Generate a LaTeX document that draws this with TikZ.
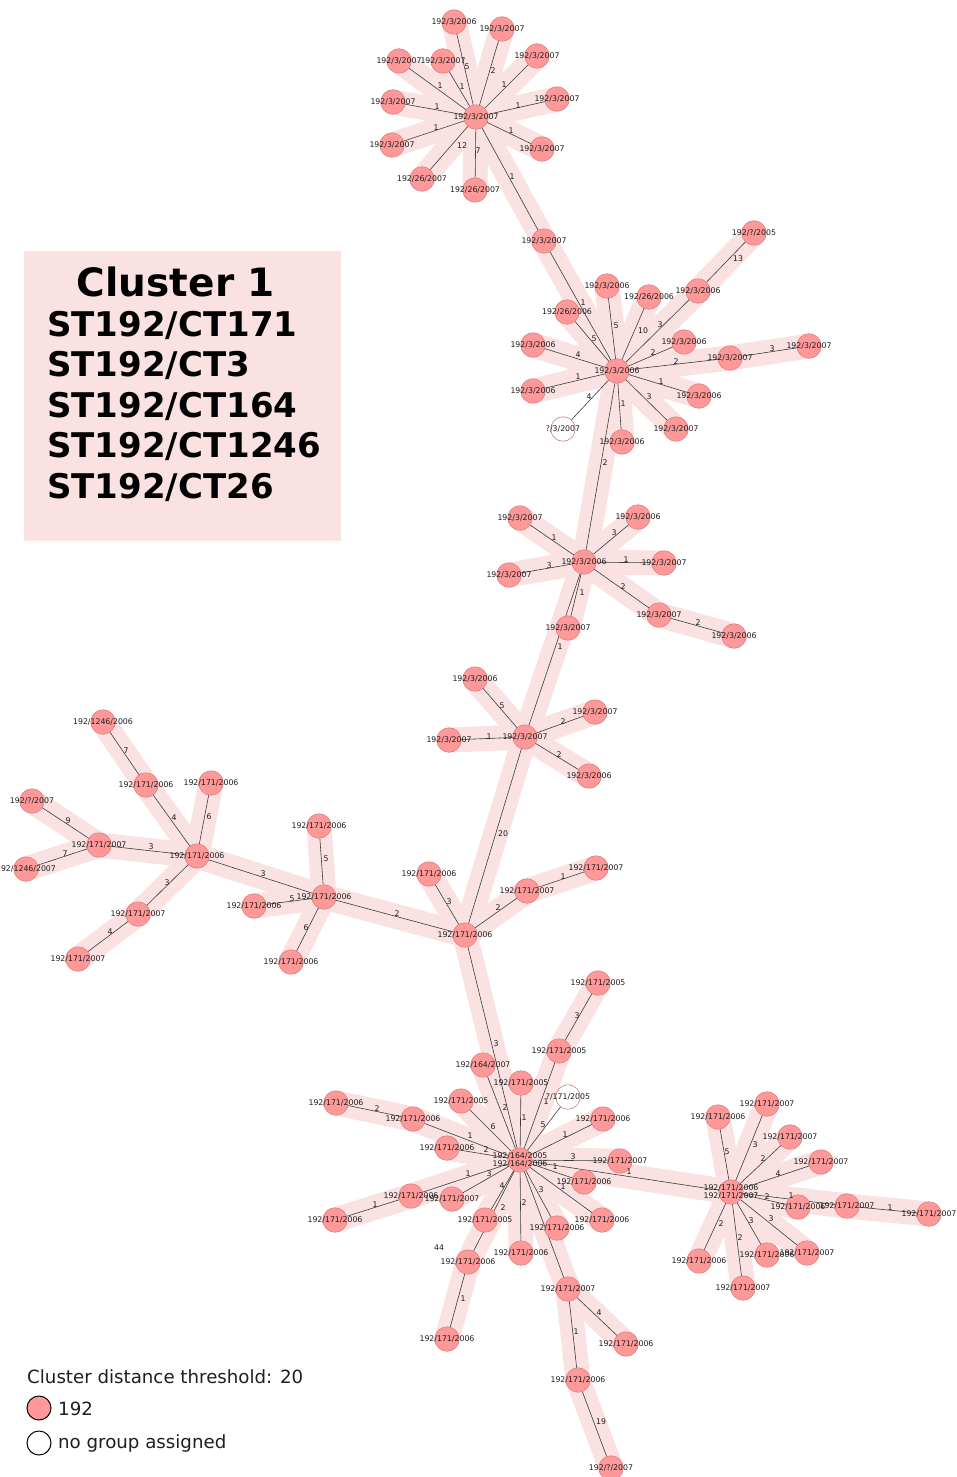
\documentclass[tikz,border=0pt]{standalone}
\usepackage{fontspec}
\setmainfont{DejaVu Sans}
\definecolor{bandpink}{RGB}{250,226,226}
\definecolor{nodepink}{RGB}{255,153,153}
\definecolor{nodeborder}{RGB}{222,128,128}
\definecolor{edgegray}{RGB}{60,60,60}
\definecolor{txt}{RGB}{30,30,30}
\pgfdeclarelayer{band}
\pgfdeclarelayer{edges}
\pgfdeclarelayer{fg}
\pgfsetlayers{band,edges,main,fg}
\tikzset{
  pn/.style={circle, minimum size=24.5pt, inner sep=0pt, fill=nodepink, draw=nodeborder, line width=0.6pt},
  wn/.style={circle, minimum size=24.5pt, inner sep=0pt, fill=white, draw=nodeborder!70!gray, line width=0.6pt},
  ntext/.style={font=\fontsize{7.8}{8.6}\selectfont, text=txt, inner sep=0pt, align=center},
  elab/.style={font=\fontsize{7.8}{8.6}\selectfont, text=txt, inner sep=0pt},
  bandline/.style={bandpink, line width=25pt, line cap=round},
  edgeline/.style={edgegray, line width=0.6pt},
  legtext/.style={anchor=base west, inner sep=0pt, font=\fontsize{18.2}{20}\selectfont, text=txt},
  titleline/.style={anchor=base west, inner sep=0pt, font=\bfseries\fontsize{34}{36}\selectfont, text=black}
}
\newcommand\Nd[4][pn]{\node[#1] (#2) at (#3) {};
  \begin{pgfonlayer}{fg}\node[ntext] at (#2.center) {#4};\end{pgfonlayer}}
\newcommand\Ed[4]{%
  \begin{pgfonlayer}{band}\draw[bandline] (#1.center) -- (#2.center);\end{pgfonlayer}
  \begin{pgfonlayer}{edges}\draw[edgeline] (#1.center) -- (#2.center);\end{pgfonlayer}
  \begin{pgfonlayer}{fg}\node[elab] at (#4) {#3};\end{pgfonlayer}}
\newcommand\Ew[4]{%
  \begin{pgfonlayer}{edges}\draw[edgeline] (#1.center) -- (#2.center);\end{pgfonlayer}
  \begin{pgfonlayer}{fg}\node[elab] at (#4) {#3};\end{pgfonlayer}}
\newcommand\Eo[2]{%
  \begin{pgfonlayer}{band}\draw[bandline] (#1.center) -- (#2.center);\end{pgfonlayer}
  \begin{pgfonlayer}{edges}\draw[edgeline] (#1.center) -- (#2.center);\end{pgfonlayer}}
\begin{document}
\begin{tikzpicture}[x=1pt,y=-1pt]
\useasboundingbox (0,0) rectangle (957,1477);
% title box
\node[fill=bandpink, minimum width=317pt, minimum height=290pt, anchor=north west, inner sep=0pt] (box) at (24,251) {};
\node[anchor=base, inner sep=0pt, font=\bfseries\fontsize{39}{40}\selectfont] (title) at (176,296) {Cluster 1};
\node[titleline] (l1) at (47,336) {ST192/CT171};
\node[titleline] (l2) at (47,376.5) {ST192/CT3};
\node[titleline] (l3) at (47,417) {ST192/CT164};
\node[titleline] (l4) at (47,457.5) {ST192/CT1246};
\node[titleline] (l5) at (47,498) {ST192/CT26};
% legend
\node[legtext] (thr) at (27,1383) {Cluster distance threshold: 20};
\node[circle, minimum size=24pt, inner sep=0pt, fill=nodepink, draw=black, line width=1pt] (lg1) at (39,1408) {};
\node[legtext] (lt1) at (58,1415) {192};
\node[circle, minimum size=24pt, inner sep=0pt, fill=white, draw=black, line width=1pt] (lg2) at (39,1443) {};
\node[legtext] (lt2) at (58,1448) {no group assigned};
% ---- nodes: top cluster
\Nd{t0}{476,117}{192/3/2007}
\Nd{t1}{454,22}{192/3/2006}
\Nd{t2}{502,29}{192/3/2007}
\Nd{t3}{537,56}{192/3/2007}
\Nd{t4}{557,99}{192/3/2007}
\Nd{t5}{542,149}{192/3/2007}
\Nd{t6}{544,241}{192/3/2007}
\Nd{t7}{475,190}{192/26/2007}
\Nd{t8}{422,179}{192/26/2007}
\Nd{t9}{392,145}{192/3/2007}
\Nd{t10}{393,102}{192/3/2007}
\Nd{t11}{399,61}{192/3/2007}
\Nd{t12}{443,61}{192/3/2007}
% cluster 2
\Nd{h2}{617,371}{192/3/2006}
\Nd{s1}{698,291}{192/3/2006}
\Nd{s2}{754,233}{192/?/2005}
\Nd{s3}{607,286}{192/3/2006}
\Nd{s4}{649,297}{192/26/2006}
\Nd{s5}{567,312}{192/26/2006}
\Nd{s6}{533,345}{192/3/2006}
\Nd{s7}{533,391}{192/3/2006}
\Nd[wn]{s8}{563,429}{?/3/2007}
\Nd{s9}{622,442}{192/3/2006}
\Nd{s10}{676,429}{192/3/2007}
\Nd{s11}{699,396}{192/3/2006}
\Nd{s12}{684,342}{192/3/2006}
\Nd{s13}{730,358}{192/3/2007}
\Nd{s14}{809,346}{192/3/2007}
% cluster 3
\Nd{h3}{584,562}{192/3/2006}
\Nd{u1}{520,518}{192/3/2007}
\Nd{u2}{638,517}{192/3/2006}
\Nd{u3}{664,563}{192/3/2007}
\Nd{u4}{509,575}{192/3/2007}
\Nd{u5}{659,615}{192/3/2007}
\Nd{u6}{734,636}{192/3/2006}
\Nd{u7}{568,628}{192/3/2007}
% cluster 4
\Nd{h4}{525,737}{192/3/2007}
\Nd{v1}{475,679}{192/3/2006}
\Nd{v2}{449,740}{192/3/2007}
\Nd{v3}{595,712}{192/3/2007}
\Nd{v4}{589,776}{192/3/2006}
% cluster 5
\Nd{h5}{465,935}{192/171/2006}
\Nd{w1}{429,874}{192/171/2006}
\Nd{w2}{527,891}{192/171/2007}
\Nd{w3}{596,868}{192/171/2007}
\Nd{h6}{324,897}{192/171/2006}
\Nd{w4}{319,826}{192/171/2006}
\Nd{w5}{254,906}{192/171/2006}
\Nd{w6}{291,962}{192/171/2006}
\Nd{h7}{197,856}{192/171/2006}
\Nd{x1}{211,783}{192/171/2006}
\Nd{x2}{146,785}{192/171/2006}
\Nd{x3}{103,722}{192/1246/2006}
\Nd{x4}{99,845}{192/171/2007}
\Nd{x5}{32,801}{192/?/2007}
\Nd{x6}{26,869}{192/1246/2007}
\Nd{x7}{138,914}{192/171/2007}
\Nd{x8}{78,959}{192/171/2007}
% bottom cluster
\Nd{h8}{520,1160}{192/164/2005\\192/164/2006}
\Nd{y1}{598,983}{192/171/2005}
\Nd{y2}{559,1051}{192/171/2005}
\Nd{y3}{483,1065}{192/164/2007}
\Nd{y4}{521,1083}{192/171/2005}
\Nd[wn]{y5}{568,1097}{?/171/2005}
\Nd{y6}{461,1101}{192/171/2005}
\Nd{y7}{413,1119}{192/171/2006}
\Nd{y8}{336,1103}{192/171/2006}
\Nd{y9}{447,1148}{192/171/2006}
\Nd{y10}{603,1119}{192/171/2006}
\Nd{y11}{620,1161}{192/171/2007}
\Nd{y12}{584,1182}{192/171/2006}
\Nd{y13}{602,1220}{192/171/2006}
\Nd{y14}{557,1228}{192/171/2006}
\Nd{y15}{568,1289}{192/171/2007}
\Nd{y16}{521,1253}{192/171/2006}
\Nd{y17}{485,1220}{192/171/2005}
\Nd{y18}{468,1262}{192/171/2006}
\Nd{y19}{447,1339}{192/171/2006}
\Nd{y20}{452,1199}{192/171/2007}
\Nd{y21}{411,1196}{192/171/2006}
\Nd{y22}{335,1220}{192/171/2006}
\Nd{y23}{626,1344}{192/171/2006}
\Nd{y24}{578,1380}{192/171/2006}
\Nd{y25}{611,1468}{192/?/2007}
% right cluster
\Nd{h9}{731,1192}{192/171/2006\\192/171/2007}
\Nd{z1}{718,1117}{192/171/2006}
\Nd{z2}{767,1104}{192/171/2007}
\Nd{z3}{790,1137}{192/171/2007}
\Nd{z4}{821,1162}{192/171/2007}
\Nd{z5}{798,1207}{192/171/2006}
\Nd{z6}{847,1206}{192/171/2007}
\Nd{z7}{929,1214}{192/171/2007}
\Nd{z8}{807,1253}{192/171/2007}
\Nd{z9}{767,1255}{192/171/2006}
\Nd{z10}{743,1288}{192/171/2007}
\Nd{z11}{699,1261}{192/171/2006}
% ---- edges
\Ed{t0}{t1}{5}{467,67}
\Ed{t0}{t2}{2}{493,71}
\Ed{t0}{t3}{1}{504,85}
\Ed{t0}{t4}{1}{518,106}
\Ed{t0}{t5}{1}{511,131}
\Ed{t0}{t6}{1}{512,177}
\Ed{t0}{t7}{7}{478,151}
\Ed{t0}{t8}{12}{462,146}
\Ed{t0}{t9}{1}{436,128}
\Ed{t0}{t10}{1}{437,107}
\Ed{t0}{t11}{1}{440,86}
\Ed{t0}{t12}{1}{462,87}
\Ed{t6}{h2}{1}{583,303}
\Ed{h2}{s1}{3}{660,325}
\Ed{s1}{s2}{13}{738,259}
\Ed{h2}{s3}{5}{616,326}
\Ed{h2}{s4}{10}{643,331}
\Ed{h2}{s5}{5}{594,339}
\Ed{h2}{s6}{4}{578,355}
\Ed{h2}{s7}{1}{578,377}
\Ew{h2}{s8}{4}{589,397}
\Ed{h2}{s9}{1}{623,404}
\Ed{h2}{s10}{3}{649,397}
\Ed{h2}{s11}{1}{661,382}
\Ed{h2}{s12}{2}{653,353}
\Ed{h2}{s13}{2}{676,362}
\Ed{s13}{s14}{3}{772,349}
\Ed{h2}{h3}{2}{605,463}
\Ed{h3}{u1}{1}{554,538}
\Ed{h3}{u2}{3}{614,533}
\Ed{h3}{u3}{1}{626,560}
\Ed{h3}{u4}{3}{549,566}
\Ed{h3}{u5}{2}{623,587}
\Ed{u5}{u6}{2}{698,623}
\Ed{h3}{u7}{1}{582,593}
\Ed{h3}{h4}{1}{560,647}
\Ed{h4}{v1}{5}{502,706}
\Ed{h4}{v2}{1}{489,737}
\Ed{h4}{v3}{2}{563,722}
\Ed{h4}{v4}{2}{559,755}
\Ed{h4}{h5}{20}{503,834}
\Ed{h5}{w1}{3}{449,902}
\Ed{h5}{w2}{2}{498,908}
\Ed{w2}{w3}{1}{563,877}
\Ed{h5}{h6}{2}{397,914}
\Ed{h6}{w4}{5}{326,859}
\Ed{h6}{w5}{5}{292,899}
\Ed{h6}{w6}{6}{306,928}
\Ed{h6}{h7}{3}{263,874}
\Ed{h7}{x1}{6}{209,817}
\Ed{h7}{x2}{4}{174,818}
\Ed{x2}{x3}{7}{126,751}
\Ed{h7}{x4}{3}{151,847}
\Ed{x4}{x5}{9}{68,821}
\Ed{x4}{x6}{7}{65,854}
\Ed{h7}{x7}{3}{167,883}
\Ed{x7}{x8}{4}{110,932}
\Ed{h5}{h8}{3}{496,1044}
\Ed{y1}{y2}{3}{577,1016}
\Ed{h8}{y2}{1}{546,1102}
\Ed{h8}{y3}{2}{505,1108}
\Ed{h8}{y4}{1}{524,1118}
\Ew{h8}{y5}{5}{543,1125}
\Ed{h8}{y6}{6}{493,1127}
\Ed{h8}{y7}{1}{470,1136}
\Ed{y7}{y8}{2}{377,1109}
\Ed{h8}{y9}{2}{486,1150}
\Ed{h8}{y10}{1}{565,1135}
\Ed{h8}{y11}{3}{573,1157}
\Ed{h8}{h9}{1}{629,1172}
\Ed{h8}{y12}{1}{555,1167}
\Ed{h8}{y13}{1}{563,1187}
\Ed{h8}{y14}{3}{541,1190}
\Eo{h8}{y15}
\Ed{h8}{y16}{2}{524,1203}
\Ed{h8}{y17}{4}{502,1186}
\Ed{h8}{y18}{2}{503,1208}
\Ed{y18}{y19}{1}{463,1299}
\Ed{h8}{y20}{3}{489,1174}
\Ed{h8}{y21}{1}{468,1174}
\Ed{y21}{y22}{1}{375,1205}
\Ed{y15}{y23}{4}{599,1313}
\Ed{y15}{y24}{1}{576,1332}
\Ed{y24}{y25}{19}{601,1422}
\node[elab] (lab44) at (439,1248) {44};
\Ed{h9}{z1}{5}{727,1152}
\Ed{h9}{z2}{3}{755,1145}
\Ed{h9}{z3}{2}{763,1159}
\Ed{h9}{z4}{4}{778,1174}
\Ed{h9}{z5}{2}{767,1197}
\Ed{h9}{z6}{1}{791,1196}
\Ed{z6}{z7}{1}{890,1208}
\Ed{h9}{z8}{3}{771,1219}
\Ed{h9}{z9}{3}{751,1221}
\Ed{h9}{z10}{2}{740,1238}
\Ed{h9}{z11}{2}{721,1224}
\end{tikzpicture}
\end{document}
